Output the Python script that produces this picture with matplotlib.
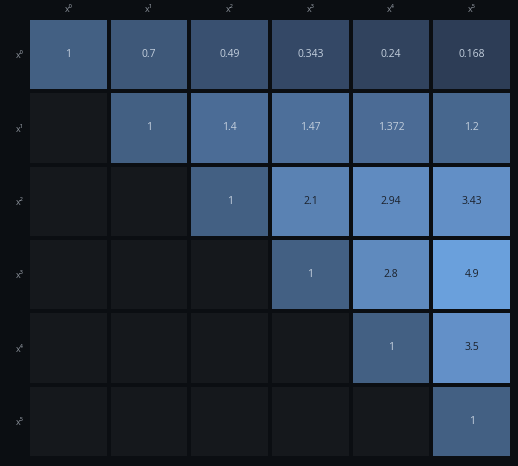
import numpy as np
import matplotlib
matplotlib.use("Agg")
import matplotlib.pyplot as plt
from matplotlib.colors import LinearSegmentedColormap, LogNorm

# data
labels = ["x⁰", "x¹", "x²", "x³", "x⁴", "x⁵"]
row0 = [1, 0.7, 0.49, 0.343, 0.24, 0.168]
row1 = [None, 1, 1.4, 1.47, 1.372, 1.2]
row2 = [None, None, 1, 2.1, 2.94, 3.43]
row3 = [None, None, None, 1, 2.8, 4.9]
row4 = [None, None, None, None, 1, 3.5]
row5 = [None, None, None, None, None, 1]
values = [row0, row1, row2, row3, row4, row5]

bg = "#0b0e12"
empty = "#15181c"

plt.rcParams["font.family"] = ["Open Sans", "DejaVu Sans"]

z = np.array([[np.nan if v is None else v for v in r] for r in values], dtype=float)
z = np.ma.masked_invalid(z)

# colours, placed on a log scale
vmin, vmax = 0.168, 4.9
def pos(v):
    return np.log(v / vmin) / np.log(vmax / vmin)
anchors = [(0.168, "#2d3d56"), (0.343, "#344866"), (1, "#436083"), (1.4, "#4b6c96"),
           (2.1, "#5a82b3"), (3.43, "#628fc6"), (4.9, "#6aa0dc")]
cmap = LinearSegmentedColormap.from_list("blues", [(pos(v), c) for v, c in anchors])
cmap.set_bad(empty)

fig = plt.figure(figsize=(5.18, 4.66), dpi=100, facecolor=bg)
ax = fig.add_axes([28 / 518, 8 / 466, 484 / 518, 440 / 466])
ax.set_facecolor(bg)

ax.pcolormesh(z, cmap=cmap, norm=LogNorm(vmin=vmin, vmax=vmax),
              edgecolors=bg, linewidth=1.5)
ax.set_xlim(0, 6)
ax.set_ylim(6, 0)

for i, r in enumerate(values):
    for j, v in enumerate(r):
        if v is None:
            continue
        col = "#1b212b" if v >= 2 else "#c3cfdd"
        ax.text(j + 0.5, i + 0.5, f"{v:g}", ha="center", va="center",
                color=col, fontsize=7.5)

ax.xaxis.tick_top()
ax.set_xticks(np.arange(6) + 0.5)
ax.set_xticklabels(labels)
ax.set_yticks(np.arange(6) + 0.5)
ax.set_yticklabels(labels)
ax.tick_params(length=0, colors="#8a9099", labelsize=6.5, pad=3)
for s in ax.spines.values():
    s.set_visible(False)

fig.savefig("out.png", dpi=100, facecolor=bg)
